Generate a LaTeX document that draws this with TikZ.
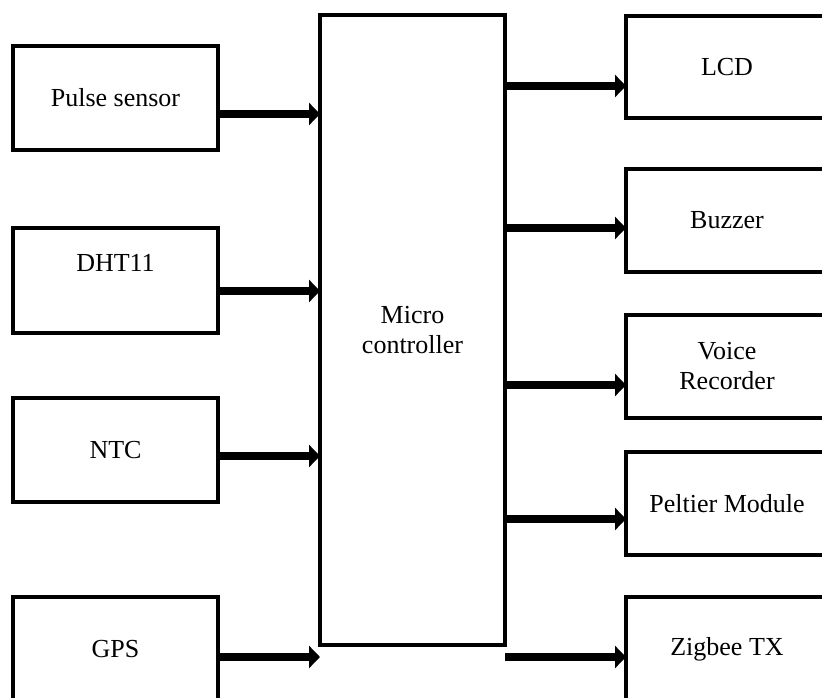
\documentclass[tikz,border=0pt]{standalone}
\usepackage{fontspec}
\setmainfont{Liberation Serif}
\usetikzlibrary{arrows.meta}
\begin{document}
\begin{tikzpicture}[x=1pt,y=-1pt,
  blk/.style={draw,line width=4pt,rectangle,inner sep=0pt,outer sep=0pt,align=center,
              font=\fontsize{26}{30}\selectfont},
  lbl/.style={inner sep=0pt,align=center,font=\fontsize{26}{30}\selectfont},
  arr/.style={line width=8pt,-{Triangle[length=11pt,width=22pt]}}]
\useasboundingbox (0,0) rectangle (822,698);
\clip (0,0) rectangle (822,698);
% left blocks
\node[blk,minimum width=205pt,minimum height=104pt] (pulse) at (115.5,98) {Pulse sensor};
\node[blk,minimum width=205pt,minimum height=105pt] (dht) at (115.5,280.5) {};
\node[lbl] (dhtlbl) at (115.5,263) {DHT11};
\node[blk,minimum width=205pt,minimum height=104pt] (ntc) at (115.5,450) {NTC};
\node[blk,minimum width=205pt,minimum height=104pt] (gps) at (115.5,649) {GPS};
% micro controller
\node[blk,minimum width=185pt,minimum height=630pt] (mcu) at (412.5,330) {Micro\\controller};
% right blocks
\node[blk,minimum width=202pt,minimum height=102pt] (lcd) at (727,67) {LCD};
\node[blk,minimum width=202pt,minimum height=103pt] (buz) at (727,220.5) {Buzzer};
\node[blk,minimum width=202pt,minimum height=103pt] (voice) at (727,366.5) {Voice\\Recorder};
\node[blk,minimum width=202pt,minimum height=103pt] (pelt) at (727,503.5) {Peltier Module};
\node[blk,minimum width=202pt,minimum height=104pt] (zig) at (727,649) {Zigbee TX};
% arrow levels
\coordinate (ya) at (0,114);
\coordinate (yb) at (0,291);
\coordinate (yc) at (0,456);
\coordinate (yd) at (0,657);
\coordinate (ye) at (0,86);
\coordinate (yf) at (0,228);
\coordinate (yg) at (0,385);
\coordinate (yh) at (0,519);
\coordinate (yi) at (0,657);
% inputs
\draw[arr] (pulse.east |- ya) -- (mcu.west |- ya);
\draw[arr] (dht.east |- yb) -- (mcu.west |- yb);
\draw[arr] (ntc.east |- yc) -- (mcu.west |- yc);
\draw[arr] (gps.east |- yd) -- (mcu.west |- yd);
% outputs
\draw[arr] (mcu.east |- ye) -- (lcd.west |- ye);
\draw[arr] (mcu.east |- yf) -- (buz.west |- yf);
\draw[arr] (mcu.east |- yg) -- (voice.west |- yg);
\draw[arr] (mcu.east |- yh) -- (pelt.west |- yh);
\draw[arr] (mcu.east |- yi) -- (zig.west |- yi);
\end{tikzpicture}
\end{document}
